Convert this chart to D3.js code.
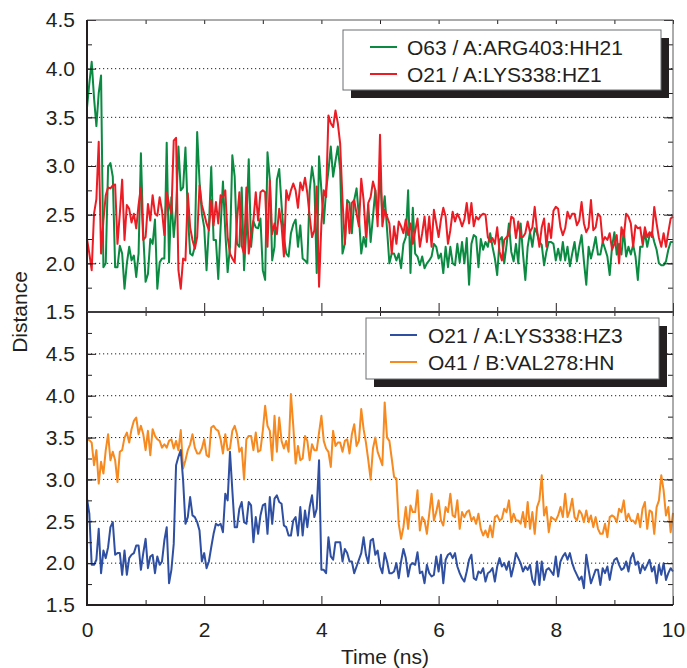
<!DOCTYPE html>
<html>
<head>
<meta charset="utf-8">
<script src="https://cdn.jsdelivr.net/npm/d3@7"></script>
<style>
  body { margin: 0; background: #fff; }
  svg { display: block; }
  text { font-family: "Liberation Sans", Arial, sans-serif; fill: #231f20; }
</style>
</head>
<body>
<div id="viz"></div>
<script>
// sampling step of the trajectories (ns)
const timeStep = 0.04;
const xTickValues = [0, 2, 4, 6, 8, 10];
const xMinorValues = [1, 3, 5, 7, 9];
const yLabelValues = [1.5, 2.0, 2.5, 3.0, 3.5, 4.0, 4.5];

// top panel
const green = [
  3.60,3.85,4.07,3.70,3.41,3.75,3.93,1.96,2.00,2.99,
  3.03,2.89,1.96,1.96,2.18,2.10,1.74,2.00,2.17,2.03,
  2.08,1.86,2.10,3.13,2.30,1.81,1.89,2.25,2.20,2.45,
  1.74,2.01,2.05,2.05,3.24,2.01,2.68,2.27,2.55,3.20,
  2.75,2.78,3.19,2.51,2.10,2.08,2.17,3.35,2.84,2.51,
  2.37,1.93,2.37,2.99,2.24,2.24,1.84,2.37,2.84,2.32,
  1.91,2.17,3.11,2.89,2.20,2.17,2.78,1.93,2.37,3.07,
  2.17,2.43,2.37,2.36,2.46,1.93,1.83,3.14,2.86,2.03,
  2.17,2.86,2.97,2.60,2.27,2.10,2.07,2.31,2.40,2.45,
  2.17,2.39,2.05,2.03,2.00,2.75,2.99,2.82,1.90,3.10,
  2.75,2.41,2.75,2.95,3.20,2.89,3.05,3.20,2.96,2.10,
  2.20,2.65,2.62,2.31,2.65,2.77,2.48,2.10,2.27,2.17,
  2.60,2.22,2.48,2.75,2.48,2.93,2.48,2.69,2.35,2.00,
  2.10,2.10,2.03,2.10,1.95,2.20,2.27,2.75,1.90,2.57,
  2.10,2.07,1.98,2.07,1.95,2.00,2.03,2.07,2.20,2.17,
  2.05,2.10,1.90,2.17,1.96,2.17,2.00,1.98,2.20,2.01,
  2.22,2.00,2.26,1.78,2.20,2.29,2.27,1.96,2.25,2.14,
  2.22,2.17,2.31,2.17,2.05,1.88,2.24,2.27,2.00,2.19,
  2.41,2.12,2.02,2.20,2.00,2.41,2.10,1.83,2.17,2.32,
  2.17,2.36,2.31,2.22,2.19,1.98,2.12,2.22,2.22,2.20,
  2.03,2.15,2.03,2.22,2.03,2.17,1.97,2.10,2.22,2.02,
  2.17,2.29,2.02,1.78,2.17,2.05,2.15,2.27,2.09,2.09,
  2.22,2.15,2.07,1.88,2.17,2.32,2.09,2.20,2.09,2.34,
  2.07,2.17,2.09,2.19,2.07,1.83,2.17,2.17,2.32,2.17,
  2.29,2.32,2.22,2.14,2.00,1.98,1.98,2.02,2.14,2.22,
  2.22
];
const red = [
  2.25,2.10,1.93,2.51,2.66,3.25,2.10,2.44,2.70,2.78,
  2.77,2.80,2.81,2.20,2.51,2.86,2.24,2.60,2.56,2.42,
  2.51,2.36,2.60,2.78,2.24,2.27,2.61,2.44,2.70,2.51,
  2.49,2.68,2.54,2.29,2.73,2.61,2.51,3.26,3.29,1.93,
  1.74,2.05,2.03,2.72,2.37,2.24,2.15,2.27,2.80,2.60,
  2.51,2.41,2.34,2.65,2.39,2.63,2.41,2.70,2.68,2.75,
  2.27,2.10,2.05,2.01,2.44,2.73,2.18,2.10,2.78,2.10,
  2.30,2.44,2.73,2.44,2.73,2.75,2.73,2.17,2.85,2.30,
  2.41,2.30,2.56,2.39,2.07,2.75,2.65,2.75,2.82,2.75,
  2.57,2.83,2.75,2.88,2.72,2.48,2.27,2.34,2.79,1.76,
  2.41,2.75,2.68,3.52,3.44,3.40,3.57,3.44,3.23,2.65,
  2.20,2.62,2.31,2.62,2.65,2.51,2.38,2.87,2.65,2.27,
  2.62,2.68,2.84,2.75,2.38,3.32,2.38,2.55,2.48,2.41,
  2.10,2.38,2.20,2.43,2.38,2.31,2.45,2.29,2.41,2.20,
  2.33,2.46,2.17,2.31,2.48,2.22,2.48,2.17,2.55,2.41,
  2.27,2.45,2.57,2.48,2.20,2.34,2.53,2.43,2.51,2.46,
  2.38,2.45,2.62,2.41,2.62,2.38,2.48,2.45,2.49,2.51,
  2.50,2.27,2.22,2.26,2.20,2.37,2.12,2.03,2.24,2.27,
  2.29,2.48,2.46,2.26,2.43,2.27,2.27,2.31,2.43,2.32,
  2.37,2.58,2.34,2.17,2.37,2.46,2.17,2.41,2.26,2.54,
  2.58,2.56,2.37,2.29,2.36,2.53,2.46,2.51,2.51,2.39,
  2.44,2.63,2.41,2.32,2.37,2.65,2.34,2.37,2.51,2.48,
  2.22,2.27,2.24,2.31,2.14,2.20,2.29,2.00,2.37,2.27,
  2.51,2.48,2.41,2.17,2.39,2.36,2.37,2.20,2.37,2.27,
  2.32,2.27,2.58,2.41,2.26,2.17,2.31,2.17,2.32,2.46,
  2.48
];

// bottom panel
const blue = [
  2.77,2.59,1.98,1.98,2.04,2.41,1.88,2.15,2.06,2.19,
  2.43,2.49,2.10,2.12,2.12,1.86,2.15,1.86,2.06,2.10,
  2.12,2.21,2.21,1.92,2.12,2.29,1.94,2.08,2.10,1.88,
  2.08,1.98,2.02,2.27,2.43,1.76,1.92,2.23,3.17,3.27,
  3.35,2.99,2.47,2.55,2.79,2.57,2.55,2.49,2.39,2.02,
  2.12,1.94,2.02,2.19,2.35,2.47,2.45,2.47,2.37,2.83,
  2.75,3.33,2.87,2.43,2.43,2.65,2.73,2.49,2.47,2.73,
  2.69,2.25,2.55,2.35,2.57,2.69,2.71,2.35,2.79,2.47,
  2.77,2.81,2.73,2.71,2.45,2.43,2.33,2.33,2.51,2.55,
  2.33,2.67,2.33,2.63,2.43,2.67,2.81,2.55,2.65,3.23,
  1.92,1.92,1.88,2.31,2.08,2.04,2.25,2.25,2.25,2.02,
  2.17,2.12,2.02,2.02,1.88,1.96,2.04,2.12,2.31,2.10,
  2.00,2.27,2.29,2.10,2.15,1.96,1.88,2.12,2.02,1.88,
  1.88,1.90,2.00,1.82,2.02,2.17,2.06,1.84,1.98,2.00,
  1.98,2.13,1.88,1.90,1.76,1.98,1.88,1.84,1.86,2.08,
  1.90,2.10,1.76,2.04,2.10,2.12,2.06,2.12,1.96,1.88,
  1.82,1.78,1.90,2.04,2.10,1.82,1.80,1.90,1.88,1.94,
  1.78,1.88,1.90,1.94,1.78,1.96,2.06,1.96,2.00,1.92,
  2.02,1.84,1.96,2.12,2.06,2.00,1.90,1.96,1.92,1.98,
  1.80,1.74,2.02,1.74,2.02,1.80,1.92,1.94,1.90,1.86,
  2.08,1.84,2.02,2.08,2.12,2.04,2.12,2.00,1.92,1.86,
  1.80,1.84,1.70,2.10,1.92,1.76,1.84,1.92,1.92,1.74,
  1.94,1.88,1.96,1.80,1.96,2.04,2.06,1.98,1.92,1.94,
  2.02,1.90,2.06,2.12,1.98,2.02,1.88,1.98,1.92,1.98,
  2.04,1.90,1.96,1.76,1.98,1.86,2.00,1.80,1.88,1.94,
  1.90
];
const orange = [
  3.48,3.47,3.44,3.17,3.35,2.95,3.21,3.07,3.35,3.54,
  3.23,3.33,3.23,2.97,3.33,3.35,3.50,3.56,3.44,3.60,
  3.70,3.74,3.54,3.64,3.54,3.35,3.58,3.29,3.60,3.52,
  3.48,3.46,3.38,3.42,3.38,3.46,3.48,3.37,3.46,3.35,
  3.59,3.13,3.23,3.35,3.42,3.54,3.38,3.31,3.31,3.37,
  3.48,3.29,3.27,3.62,3.64,3.60,3.58,3.48,3.31,3.54,
  3.35,3.37,3.58,3.64,3.54,3.33,3.38,3.00,3.48,3.52,
  3.52,3.35,3.56,3.33,3.35,3.58,3.88,3.64,3.58,3.23,
  3.76,3.33,3.74,3.46,3.37,3.46,3.33,4.02,3.64,3.19,
  3.40,3.23,3.25,3.52,3.46,3.23,3.42,3.35,3.35,3.56,
  3.76,3.46,3.37,3.33,3.15,3.58,3.40,3.44,3.44,3.33,
  3.46,3.48,3.31,3.54,3.66,3.40,3.46,3.84,3.60,3.44,
  3.23,3.00,3.37,3.50,3.33,3.25,3.17,3.92,3.50,3.46,
  3.25,3.03,3.01,2.47,2.29,2.43,2.67,2.41,2.69,2.61,
  2.61,2.87,2.39,2.55,2.51,2.35,2.59,2.83,2.51,2.61,
  2.75,2.51,2.45,2.67,2.61,2.83,2.57,2.55,2.75,2.41,
  2.61,2.55,2.61,2.63,2.51,2.55,2.47,2.59,2.41,2.33,
  2.39,2.31,2.45,2.31,2.55,2.57,2.51,2.53,2.65,2.61,
  2.75,2.49,2.59,2.51,2.51,2.47,2.61,2.43,2.73,2.41,
  2.61,2.35,2.67,2.75,3.05,2.57,2.67,2.37,2.55,2.53,
  2.51,2.57,2.67,2.55,2.83,2.55,2.63,2.77,2.55,2.51,
  2.63,2.59,2.49,2.63,2.49,2.57,2.43,2.55,2.41,2.35,
  2.35,2.47,2.31,2.55,2.57,2.55,2.49,2.65,2.61,2.75,
  2.51,2.59,2.51,2.51,2.47,2.59,2.43,2.65,2.73,2.41,
  2.63,2.61,2.35,2.67,2.75,3.05,2.87,2.57,2.67,2.37,
  2.60
];

const colors = { green: "#0b8a42", red: "#ec1c24", blue: "#2f4fa2", orange: "#f6891f" };
const ink = "#231f20";

const svg = d3.select("#viz").append("svg")
  .attr("width", 687)
  .attr("height", 668);

const x = d3.scaleLinear().domain([0, 10]).range([87, 673]);

const panels = [
  {
    top: 20, bottom: 312, domain: [1.5, 4.5], labels: true,
    series: [
      { name: "O63 / A:ARG403:HH21", values: green, color: colors.green },
      { name: "O21 / A:LYS338:HZ1", values: red, color: colors.red }
    ],
    legend: { x: 343, y: 30, w: 318, h: 60, lineX: 370, textX: 407 }
  },
  {
    top: 312, bottom: 605, domain: [1.5, 5.0], labels: true, xLabels: true,
    series: [
      { name: "O41 / B:VAL278:HN", values: orange, color: colors.orange, legendRow: 1 },
      { name: "O21 / A:LYS338:HZ3", values: blue, color: colors.blue, legendRow: 0 }
    ],
    legend: { x: 366, y: 318, w: 293, h: 61, lineX: 390, textX: 428 }
  }
];

panels.forEach(p => {
  const y = d3.scaleLinear().domain(p.domain).range([p.bottom, p.top]);
  const g = svg.append("g");

  // dotted grid at the labelled values inside the panel
  const gridVals = yLabelValues.filter(v => v > p.domain[0] && v < p.domain[1]);
  g.append("g").selectAll("line")
    .data(gridVals)
    .join("line")
    .attr("x1", x(0)).attr("x2", x(10))
    .attr("y1", d => y(d)).attr("y2", d => y(d))
    .attr("stroke", ink)
    .attr("stroke-width", 1)
    .attr("stroke-dasharray", "1.2,2.8");

  // traces
  const line = d3.line()
    .x((d, i) => x(i * timeStep))
    .y(d => y(d));
  g.append("g").selectAll("path")
    .data(p.series)
    .join("path")
    .attr("d", d => line(d.values))
    .attr("fill", "none")
    .attr("stroke", d => d.color)
    .attr("stroke-width", 2)
    .attr("stroke-linejoin", "round");

  // y axes: minor ticks every 0.25, major with labels every 0.5
  const minorY = d3.range(p.domain[0], p.domain[1] + 0.001, 0.25);
  const leftMinor = d3.axisLeft(y).tickValues(minorY).tickSize(-5).tickFormat("");
  const rightMinor = d3.axisRight(y).tickValues(minorY).tickSize(-5).tickFormat("");
  const leftMajor = d3.axisLeft(y).tickValues(yLabelValues).tickSize(-9).tickPadding(12)
    .tickFormat(d3.format(".1f"));
  const rightMajor = d3.axisRight(y).tickValues(yLabelValues).tickSize(-9).tickFormat("");

  const axes = [
    [leftMinor, x(0), 0], [leftMajor, x(0), 0],
    [rightMinor, x(10), 0], [rightMajor, x(10), 0]
  ];
  const bottomMajor = d3.axisBottom(x).tickValues(xTickValues).tickSize(-9).tickPadding(17)
    .tickFormat(p.xLabels ? d3.format("d") : "");
  const bottomMinor = d3.axisBottom(x).tickValues(xMinorValues).tickSize(-5).tickFormat("");
  const topTicks = d3.axisTop(x).tickValues(xTickValues.concat(xMinorValues)).tickSize(-4).tickFormat("");
  axes.push([bottomMajor, 0, p.bottom], [bottomMinor, 0, p.bottom], [topTicks, 0, p.top]);

  axes.forEach(([ax, tx, ty]) => {
    const a = g.append("g")
      .attr("transform", `translate(${tx},${ty})`)
      .call(ax);
    a.select(".domain").remove();
    a.selectAll(".tick line").attr("stroke", ink).attr("stroke-width", 1);
    a.selectAll("text")
      .attr("font-size", 21)
      .attr("font-family", "'Liberation Sans', Arial, sans-serif")
      .attr("fill", ink);
  });

  // frame: thin top/right, heavy left/bottom
  g.append("line").attr("x1", x(0)).attr("x2", x(10)).attr("y1", p.top).attr("y2", p.top)
    .attr("stroke", "#58595b").attr("stroke-width", 1);
  g.append("line").attr("x1", x(10)).attr("x2", x(10)).attr("y1", p.top).attr("y2", p.bottom)
    .attr("stroke", "#58595b").attr("stroke-width", 1);
  g.append("line").attr("x1", x(0)).attr("x2", x(0)).attr("y1", p.top).attr("y2", p.bottom + 1)
    .attr("stroke", ink).attr("stroke-width", 2);
  g.append("line").attr("x1", x(0) - 1).attr("x2", x(10)).attr("y1", p.bottom).attr("y2", p.bottom)
    .attr("stroke", ink).attr("stroke-width", 2);

  // legend with drop shadow
  const L = p.legend;
  const lg = svg.append("g");
  lg.append("rect")
    .attr("x", L.x + 8).attr("y", L.y + 8)
    .attr("width", L.w).attr("height", L.h)
    .attr("fill", ink);
  lg.append("rect")
    .attr("x", L.x).attr("y", L.y)
    .attr("width", L.w).attr("height", L.h)
    .attr("fill", "#fff")
    .attr("stroke", "#6d6e71")
    .attr("stroke-width", 1);
  const ordered = p.series.slice().sort((a, b) => (a.legendRow ?? 0) - (b.legendRow ?? 0));
  const rows = p.series[0].legendRow === undefined ? p.series : ordered;
  rows.forEach((s, i) => {
    const cy = L.y + 17 + i * 27;
    lg.append("line")
      .attr("x1", L.lineX).attr("x2", L.lineX + 27)
      .attr("y1", cy).attr("y2", cy)
      .attr("stroke", s.color).attr("stroke-width", 2);
    lg.append("text")
      .attr("x", L.textX).attr("y", cy)
      .attr("dy", "0.36em")
      .attr("font-size", 21)
      .text(s.name);
  });
});

// axis titles
svg.append("text")
  .attr("x", 385).attr("y", 664)
  .attr("text-anchor", "middle")
  .attr("font-size", 21)
  .text("Time (ns)");

svg.append("text")
  .attr("transform", "translate(27,312) rotate(-90)")
  .attr("text-anchor", "middle")
  .attr("font-size", 21)
  .text("Distance");
</script>
</body>
</html>
